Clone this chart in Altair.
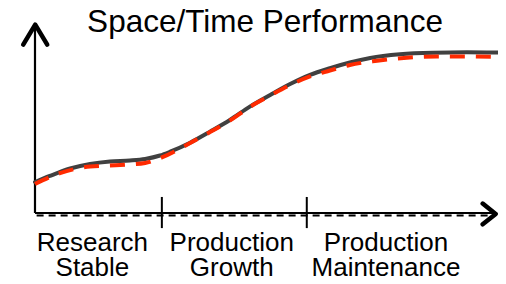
import altair as alt
import pandas as pd

# ---- data ----
title_text = "Space/Time Performance"

stage_labels = ["Research\nStable", "Production\nGrowth", "Production\nMaintenance"]
stage_label_t = [12.4, 42.5, 75.8]
stage_bounds = [27.4, 58.7]

t_solid = [0.0, 3.2, 7.6, 11.9, 16.2, 20.5, 23.8, 27.0, 29.2, 33.5, 37.8, 42.1,
           46.4, 50.8, 55.1, 59.4, 63.7, 68.0, 72.4, 78.8, 86.0, 93.3, 100.0]
perf_solid = [16.2, 19.4, 23.3, 25.7, 27.0, 27.5, 28.3, 30.1, 32.1, 36.8, 42.6, 48.7,
              55.7, 61.8, 67.5, 72.3, 75.8, 78.8, 81.2, 83.1, 83.9, 84.1, 84.0]

t_dashed = [0.0, 5.4, 11.9, 18.4, 23.8, 27.4, 33.5, 37.8, 42.1, 46.4, 50.8, 55.1,
            59.4, 63.7, 68.0, 73.9, 80.3, 86.8, 92.4, 100.0]
perf_dashed = [15.2, 20.9, 24.3, 25.1, 26.2, 29.1, 36.6, 42.4, 48.4, 55.5, 61.5, 67.0,
               71.5, 74.6, 77.5, 79.7, 81.3, 82.0, 82.0, 81.7]

# ---- scales ----
xs = alt.Scale(domain=[-5.83, 100], nice=False, zero=False)
ys = alt.Scale(domain=[-32.98, 107.33], nice=False, zero=False)

def X(f="t"):
    return alt.X(f + ":Q", scale=xs, axis=None)

def Y(f="p"):
    return alt.Y(f + ":Q", scale=ys, axis=None)

solid_df = pd.DataFrame({"t": t_solid, "p": perf_solid})
dashed_df = pd.DataFrame({"t": t_dashed, "p": perf_dashed})

solid = alt.Chart(solid_df).mark_line(
    color="#404040", strokeWidth=4, interpolate="monotone", strokeCap="round"
).encode(x=X(), y=Y())

dashed = alt.Chart(dashed_df).mark_line(
    color="#ff2a00", strokeWidth=4, interpolate="monotone", strokeDash=[15, 11]
).encode(x=X(), y=Y())

# axes
yaxis_df = pd.DataFrame({"t": [0.0], "p": [0.0], "p2": [98.0]})
yaxis = alt.Chart(yaxis_df).mark_rule(color="black", strokeWidth=2.2).encode(
    x=X(), y=Y(), y2="p2:Q")

xaxis_df = pd.DataFrame({"t": [0.0], "t2": [99.0], "p": [0.0]})
xaxis = alt.Chart(xaxis_df).mark_rule(color="black", strokeWidth=2).encode(
    x=X(), x2="t2:Q", y=Y())

xdash_df = pd.DataFrame({"t": [0.35], "t2": [98.5], "p": [-1.25]})
xdash = alt.Chart(xdash_df).mark_rule(color="black", strokeWidth=2, strokeDash=[7, 5]).encode(
    x=X(), x2="t2:Q", y=Y())

ticks_df = pd.DataFrame({"t": stage_bounds, "p": [8.4] * len(stage_bounds),
                         "p2": [-7.9] * len(stage_bounds)})
ticks = alt.Chart(ticks_df).mark_rule(color="black", strokeWidth=2).encode(
    x=X(), y=Y(), y2="p2:Q")

up_df = pd.DataFrame({"t": [0.05], "p": [98.6]})
up_arrow = alt.Chart(up_df).mark_point(
    shape="M-0.6,1L0,0L0.6,1", size=1600, filled=False, color="black",
    strokeWidth=4.5, strokeJoin="round", strokeCap="round", opacity=1
).encode(x=X(), y=Y())

right_df = pd.DataFrame({"t": [99.5], "p": [-0.5]})
right_arrow = alt.Chart(right_df).mark_point(
    shape="M-1,-0.8L0,0L-1,0.8", size=676, filled=False, color="black",
    strokeWidth=4.5, strokeJoin="round", strokeCap="round", opacity=1
).encode(x=X(), y=Y())

labels_df = pd.DataFrame({"t": stage_label_t, "p": [-19.63] * 3, "label": stage_labels})
labels = alt.Chart(labels_df).mark_text(
    font="Liberation Sans", fontSize=26, align="center", baseline="alphabetic",
    lineBreak="\n", lineHeight=25, color="black"
).encode(x=X(), y=Y(), text="label:N")

title_df = pd.DataFrame({"t": [49.7], "p": [94.9], "label": [title_text]})
title = alt.Chart(title_df).mark_text(
    font="Liberation Sans", fontSize=31.5, align="center", baseline="alphabetic",
    color="black"
).encode(x=X(), y=Y(), text="label:N")

chart = alt.layer(
    xdash, xaxis, yaxis, ticks, solid, dashed, up_arrow, right_arrow, labels, title
).properties(
    width=490, height=268, autosize=alt.AutoSizeParams(type="none"), padding=0,
    background="white"
).configure_view(stroke=None)

chart.save("out.html", embed_options={"renderer": "svg", "actions": False})
